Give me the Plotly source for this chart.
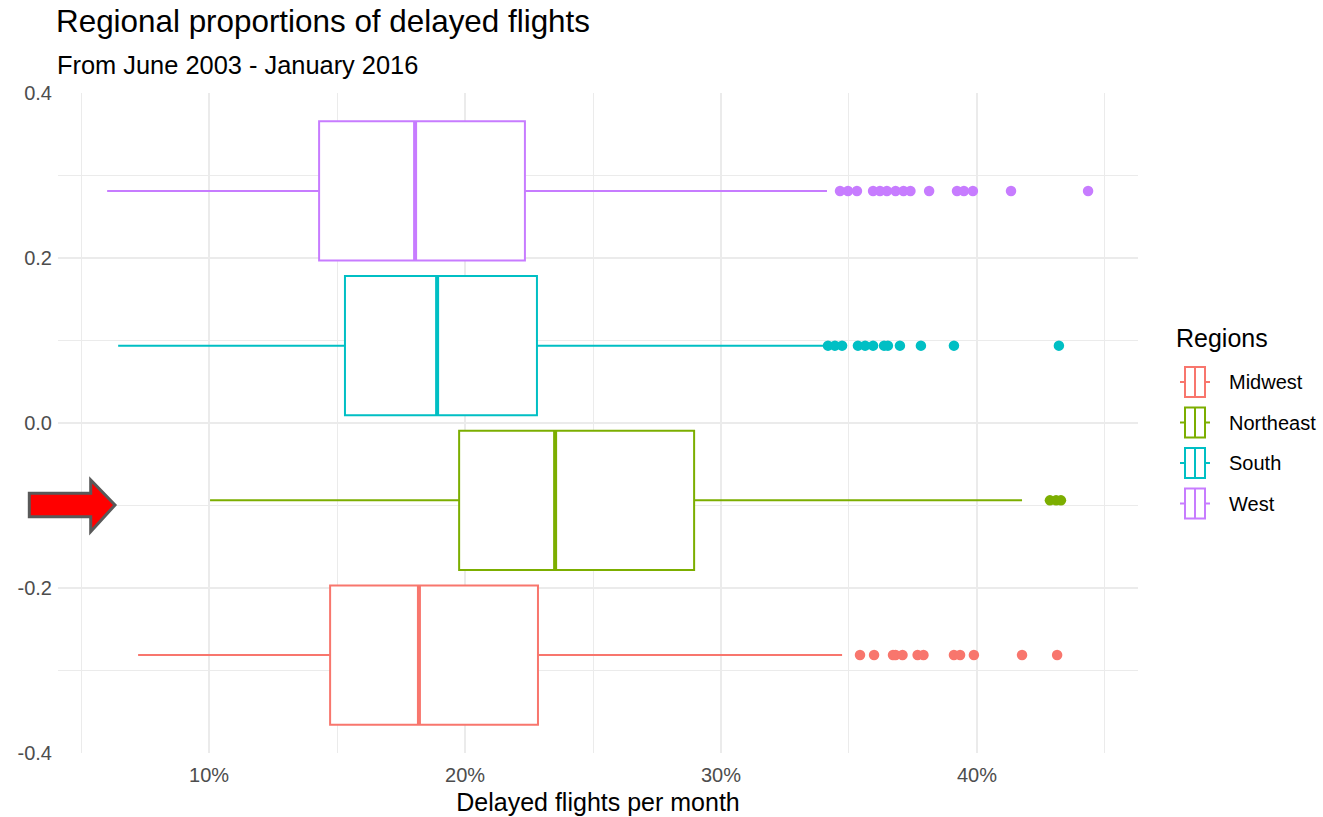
import plotly.graph_objects as go

# Regions and their dodged positions on the (unlabelled) y scale
regions = ["Midwest", "Northeast", "South", "West"]
positions = [-0.28125, -0.09375, 0.09375, 0.28125]
box_width = 0.16875
colors = ["#F8766D", "#7CAE00", "#00BFC4", "#C77CFF"]

# Monthly share of delayed flights, summary statistics per region
lower_whisker = [0.0723, 0.1004, 0.0645, 0.0602]
q1 = [0.1473, 0.1977, 0.1531, 0.1430]
median = [0.1820, 0.2352, 0.1891, 0.1805]
q3 = [0.2285, 0.2895, 0.2281, 0.2234]
upper_whisker = [0.3473, 0.4176, 0.3410, 0.3414]

# Outlying months beyond the upper whisker
outliers_midwest = [0.3543, 0.3598, 0.3672, 0.3682, 0.3709, 0.3768, 0.3791,
                    0.3910, 0.3934, 0.3988, 0.4176, 0.4313]
outliers_northeast = [0.4285, 0.4309, 0.4328]
outliers_south = [0.3418, 0.3445, 0.3473, 0.3535, 0.3563, 0.3594, 0.3637,
                  0.3652, 0.3699, 0.3781, 0.3910, 0.4320]
outliers_west = [0.3465, 0.3496, 0.3531, 0.3594, 0.3621, 0.3648, 0.3682,
                 0.3713, 0.3740, 0.3813, 0.3922, 0.3949, 0.3984, 0.4133,
                 0.4434]
outliers = [outliers_midwest, outliers_northeast, outliers_south, outliers_west]

FONT = "Liberation Sans, Arial, sans-serif"

# Layout geometry (pixels)
W, H = 1323, 817
ML, MR, MT, MB = 58, 185, 93, 64
PW, PH = W - ML - MR, H - MT - MB


def px(x, y):
    """Pixel position -> paper coordinates."""
    return (x - ML) / PW, (H - MB - y) / PH


fig = go.Figure()

for i, name in enumerate(regions):
    fig.add_trace(go.Box(
        name=name,
        y=[positions[i]],
        q1=[q1[i]], median=[median[i]], q3=[q3[i]],
        lowerfence=[lower_whisker[i]], upperfence=[upper_whisker[i]],
        orientation="h",
        width=box_width,
        whiskerwidth=0,
        boxpoints=False,
        fillcolor="white",
        line=dict(color=colors[i], width=2),
        hoverinfo="skip",
    ))
    # Thicker median bar
    fig.add_trace(go.Scatter(
        x=[median[i], median[i]],
        y=[positions[i] - box_width / 2, positions[i] + box_width / 2],
        mode="lines",
        line=dict(color=colors[i], width=4),
        hoverinfo="skip",
    ))
    fig.add_trace(go.Scatter(
        x=outliers[i],
        y=[positions[i]] * len(outliers[i]),
        mode="markers",
        marker=dict(color=colors[i], size=10.5, line=dict(width=0)),
        hoverinfo="skip",
    ))

grid = "#EBEBEB"
tick_font = dict(family=FONT, size=20, color="#4D4D4D")

fig.update_xaxes(
    range=[0.041, 0.4629],
    tickvals=[0.1, 0.2, 0.3, 0.4],
    tickformat=".0%",
    showgrid=True, gridcolor=grid, gridwidth=1.6,
    minor=dict(dtick=0.05, tick0=0, showgrid=True, gridcolor=grid, gridwidth=0.8),
    zeroline=False, showline=False, ticks="",
    tickfont=tick_font,
    ticklabelstandoff=8,
    automargin=False,
    title=dict(text="Delayed flights per month",
               font=dict(family=FONT, size=25, color="black"),
               standoff=8),
)
fig.update_yaxes(
    range=[-0.4, 0.4],
    tickvals=[-0.4, -0.2, 0.0, 0.2, 0.4],
    ticktext=["-0.4", "-0.2", "0.0", "0.2", "0.4"],
    showgrid=True, gridcolor=grid, gridwidth=1.6,
    minor=dict(dtick=0.1, tick0=0, showgrid=True, gridcolor=grid, gridwidth=0.8),
    zeroline=False, showline=False, ticks="",
    tickfont=tick_font,
    ticklabelstandoff=5,
    automargin=False,
)

# Title and subtitle
tx, ty = px(54, 22)
sx, sy = px(55, 65)
fig.add_annotation(text="Regional proportions of delayed flights", x=tx, y=ty,
                   xref="paper", yref="paper", xanchor="left", yanchor="middle",
                   showarrow=False, font=dict(family=FONT, size=31.4, color="black"))
fig.add_annotation(text="From June 2003 - January 2016", x=sx, y=sy,
                   xref="paper", yref="paper", xanchor="left", yanchor="middle",
                   showarrow=False, font=dict(family=FONT, size=25.4, color="black"))

# Red block arrow pointing at the Northeast box
pts = [(29.3, 493.3), (90.7, 493.3), (90.7, 480), (115, 505),
       (90.7, 531.7), (90.7, 516.7), (29.3, 516.7)]
path = "M " + " L ".join(f"{px(x, y)[0]:.5f},{px(x, y)[1]:.5f}" for x, y in pts) + " Z"
fig.add_shape(type="path", path=path, xref="paper", yref="paper",
              fillcolor="#FF0000", line=dict(color="#595959", width=3), layer="above")

# Legend with boxplot glyphs
ltx, lty = px(1174, 338)
fig.add_annotation(text="Regions", x=ltx, y=lty, xref="paper", yref="paper",
                   xanchor="left", yanchor="middle", showarrow=False,
                   font=dict(family=FONT, size=25, color="black"))
row_y = [382, 422.5, 463, 503.5]
for name, color, cy in zip(regions, colors, row_y):
    x0, y0 = px(1185, cy - 15)
    x1, y1 = px(1205, cy + 15)
    xm, _ = px(1195, cy)
    wl, yc = px(1180, cy)
    wr, _ = px(1210, cy)
    style = dict(xref="paper", yref="paper", line=dict(color=color, width=2))
    fig.add_shape(type="rect", x0=x0, x1=x1, y0=y0, y1=y1, fillcolor="white", **style)
    fig.add_shape(type="line", x0=xm, x1=xm, y0=y0, y1=y1, **style)
    fig.add_shape(type="line", x0=wl, x1=x0, y0=yc, y1=yc, **style)
    fig.add_shape(type="line", x0=x1, x1=wr, y0=yc, y1=yc, **style)
    lx, ly = px(1227, cy)
    fig.add_annotation(text=name, x=lx, y=ly, xref="paper", yref="paper",
                       xanchor="left", yanchor="middle", showarrow=False,
                       font=dict(family=FONT, size=20, color="black"))

fig.update_layout(
    width=W, height=H,
    margin=dict(l=ML, r=MR, t=MT, b=MB, autoexpand=False),
    plot_bgcolor="white", paper_bgcolor="white",
    font=dict(family=FONT),
    boxmode="overlay",
    showlegend=False,
)

fig.write_html("out.html")
